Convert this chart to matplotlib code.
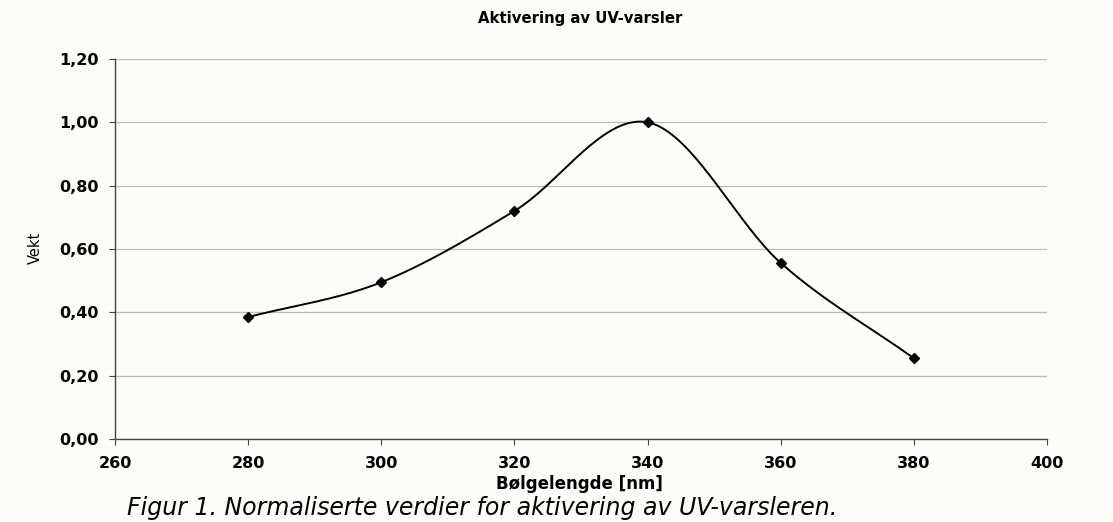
import numpy as np
import matplotlib
matplotlib.use("Agg")
from matplotlib import pyplot as plt

# data
wavelength = [280, 300, 320, 340, 360, 380]
weight = [0.385, 0.495, 0.72, 1.00, 0.556, 0.255]
x_ticks = [260, 280, 300, 320, 340, 360, 380, 400]
y_ticks = [0.0, 0.2, 0.4, 0.6, 0.8, 1.0, 1.2]

title = "Aktivering av UV-varsler"
x_label = "Bølgelengde [nm]"
y_label = "Vekt"
caption = "Figur 1. Normaliserte verdier for aktivering av UV-varsleren."


def smooth(xs, ys, steps=40):
    # Catmull-Rom style smoothing, similar to a spreadsheet "smoothed line"
    xs = np.asarray(xs, float)
    ys = np.asarray(ys, float)
    px = np.concatenate([[2 * xs[0] - xs[1]], xs, [2 * xs[-1] - xs[-2]]])
    py = np.concatenate([[2 * ys[0] - ys[1]], ys, [2 * ys[-1] - ys[-2]]])
    out_x, out_y = [], []
    t = np.linspace(0, 1, steps)
    for i in range(1, len(px) - 2):
        for arr, out in ((px, out_x), (py, out_y)):
            p0, p1, p2, p3 = arr[i - 1], arr[i], arr[i + 1], arr[i + 2]
            out.extend(0.5 * ((2 * p1) + (-p0 + p2) * t
                              + (2 * p0 - 5 * p1 + 4 * p2 - p3) * t ** 2
                              + (-p0 + 3 * p1 - 3 * p2 + p3) * t ** 3))
    return np.array(out_x), np.array(out_y)


plt.rcParams["font.family"] = ["DejaVu Sans"]

bg = "#fcfcf8"
fig = plt.figure(figsize=(11.13, 5.22), dpi=100, facecolor=bg)
ax = fig.add_axes([0.1033, 0.159, 0.8374, 0.728], facecolor=bg)

sx, sy = smooth(wavelength, weight)
ax.plot(sx, sy, color="black", lw=1.4, zorder=3)
ax.plot(wavelength, weight, linestyle="none", marker="D", markersize=5.5,
        color="black", zorder=4)

ax.set_xlim(260, 400)
ax.set_ylim(0, 1.2)
ax.set_xticks(x_ticks)
ax.set_yticks(y_ticks)
ax.set_yticklabels([f"{v:.2f}".replace(".", ",") for v in y_ticks])
ax.set_xticklabels([str(v) for v in x_ticks])
for lbl in ax.get_xticklabels() + ax.get_yticklabels():
    lbl.set_fontweight("bold")
    lbl.set_fontsize(11.5)

ax.grid(axis="y", color="#bdbdb8", lw=0.9)
ax.set_axisbelow(True)
for side in ("top", "right"):
    ax.spines[side].set_visible(False)
for side in ("left", "bottom"):
    ax.spines[side].set_color("#444444")
    ax.spines[side].set_linewidth(1.0)
ax.tick_params(axis="both", direction="out", length=4, color="#444444")
ax.tick_params(axis="y", pad=8)
ax.tick_params(axis="x", pad=8)

fig.text(0.521, 0.964, title, ha="center", va="center",
         fontsize=10.7, fontweight="bold")
fig.text(0.521, 0.073, x_label, ha="center", va="center",
         fontsize=12, fontweight="bold")
fig.text(0.032, 0.525, y_label, ha="center", va="center",
         fontsize=10.5, rotation=90)
fig.text(0.433, 0.026, caption, ha="center", va="center",
         fontsize=17, style="italic")

fig.savefig("out.png", dpi=100, facecolor=bg)
